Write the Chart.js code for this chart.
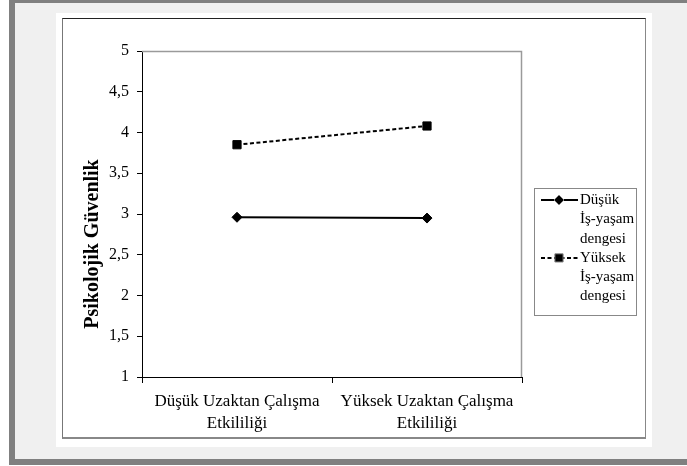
<!DOCTYPE html>
<html>
<head>
<meta charset="utf-8">
<script src="https://cdn.jsdelivr.net/npm/chart.js@4/dist/chart.umd.min.js"></script>
<style>
  html, body { margin: 0; padding: 0; width: 687px; height: 466px; overflow: hidden; background: #ffffff; }
  #frame { position: absolute; left: 9px; top: 0; width: 672px; height: 456px; background: #f0f0f0;
           border-top: 3px solid #808080; border-left: 6px solid #808080; border-bottom: 6px solid #808080; }
  #sheet { position: absolute; left: 56px; top: 13px; width: 596px; height: 434px; background: #ffffff; }
  #box { position: absolute; left: 62px; top: 18px; width: 582px; height: 418px;
         border-top: 1px solid #222; border-left: 1px solid #777; border-right: 1px solid #888; border-bottom: 2px solid #888; }
  #c { position: absolute; left: 0; top: 0; }
</style>
</head>
<body>
<div id="frame"></div>
<div id="sheet"></div>
<div id="box"></div>
<canvas id="c" width="687" height="466"></canvas>
<script>
// Categories on the x axis (two-line labels)
const categories = [
  ['Düşük Uzaktan Çalışma', 'Etkililiği'],
  ['Yüksek Uzaktan Çalışma', 'Etkililiği']
];
// Mean psychological safety per work-life balance group
const lowBalance = [2.96, 2.95];
const highBalance = [3.85, 4.08];
// Legend entries, one line per element
const seriesNames = [
  ['Düşük', 'İş-yaşam', 'dengesi'],
  ['Yüksek', 'İş-yaşam', 'dengesi']
];
const yAxisTitle = 'Psikolojik Güvenlik';
const yMin = 1, yMax = 5, yStep = 0.5;

const SERIF = '"Liberation Serif", "Times New Roman", serif';

// Grey frame on the top and right sides of the plot area
const plotFrame = {
  id: 'plotFrame',
  beforeDatasetsDraw(chart) {
    const { ctx, chartArea: a } = chart;
    ctx.save();
    ctx.strokeStyle = '#9a9a9a';
    ctx.lineWidth = 1.5;
    ctx.beginPath();
    ctx.moveTo(a.left, a.top + 0.5);
    ctx.lineTo(a.right - 0.5, a.top + 0.5);
    ctx.lineTo(a.right - 0.5, a.bottom);
    ctx.stroke();
    ctx.restore();
  }
};

// Rotated y-axis title
const yTitle = {
  id: 'yTitle',
  afterDraw(chart) {
    const { ctx } = chart;
    ctx.save();
    ctx.translate(93, 244);
    ctx.rotate(-Math.PI / 2);
    ctx.font = 'bold 20px ' + SERIF;
    ctx.fillStyle = '#000';
    ctx.textAlign = 'center';
    ctx.textBaseline = 'middle';
    ctx.fillText(yAxisTitle, 0, 0);
    ctx.restore();
  }
};

// Boxed legend with wrapped series names
const boxLegend = {
  id: 'boxLegend',
  afterDraw(chart) {
    const { ctx } = chart;
    const left = 534, top = 188, right = 636, bottom = 315;
    const lineH = 19.3;
    ctx.save();
    ctx.strokeStyle = '#888';
    ctx.lineWidth = 1;
    ctx.strokeRect(left + 0.5, top + 0.5, right - left, bottom - top);
    ctx.font = '15px ' + SERIF;
    ctx.textBaseline = 'middle';
    ctx.fillStyle = '#000';
    let y = top + 12;
    chart.data.datasets.forEach((ds, i) => {
      // sample line
      ctx.save();
      ctx.strokeStyle = ds.borderColor;
      ctx.lineWidth = ds.borderWidth;
      ctx.setLineDash(ds.borderDash || []);
      ctx.beginPath();
      ctx.moveTo(541, y);
      ctx.lineTo(578, y);
      ctx.stroke();
      ctx.restore();
      Chart.helpers.drawPoint(ctx, {
        pointStyle: ds.pointStyle, radius: ds.pointRadius, rotation: 0, borderWidth: 1
      }, 559, y);
      ctx.fillStyle = '#000';
      seriesNames[i].forEach((t, k) => {
        ctx.fillText(t, 580, y + k * lineH);
      });
      y += seriesNames[i].length * lineH;
    });
    ctx.restore();
  }
};

const yTickValues = [];
for (let v = yMin; v <= yMax + 1e-9; v += yStep) yTickValues.push(+v.toFixed(1));

new Chart(document.getElementById('c'), {
  type: 'line',
  data: {
    labels: categories,
    datasets: [
      {
        label: seriesNames[0].join(' '),
        data: lowBalance,
        borderColor: '#000',
        backgroundColor: '#000',
        borderWidth: 2,
        pointStyle: 'rectRot',
        pointRadius: 5,
        pointBorderWidth: 1,
        tension: 0,
        fill: false
      },
      {
        label: seriesNames[1].join(' '),
        data: highBalance,
        borderColor: '#000',
        backgroundColor: '#000',
        borderWidth: 2,
        borderDash: [4, 2.5],
        pointStyle: 'rect',
        pointRadius: 5.8,
        pointBorderWidth: 1,
        tension: 0,
        fill: false
      }
    ]
  },
  options: {
    responsive: false,
    animation: false,
    devicePixelRatio: 1,
    layout: { padding: { left: 0, top: 51, right: 165, bottom: 0 } },
    plugins: { legend: { display: false }, tooltip: { enabled: false } },
    scales: {
      x: {
        type: 'category',
        offset: true,
        grid: { offset: true, drawOnChartArea: false, drawTicks: true, tickLength: 6, color: '#000' },
        border: { display: true, color: '#000', width: 1 },
        ticks: {
          color: '#000', padding: 7, maxRotation: 0, autoSkip: false,
          font: { family: SERIF, size: 17, lineHeight: 1.3 }
        },
        afterFit(scale) { scale.height = 89; }
      },
      y: {
        min: yMin, max: yMax,
        afterBuildTicks(scale) { scale.ticks = yTickValues.map(v => ({ value: v })); },
        grid: { drawOnChartArea: false, drawTicks: true, tickLength: 5, color: '#000' },
        border: { display: true, color: '#000', width: 1 },
        ticks: {
          color: '#000', padding: 8,
          font: { family: SERIF, size: 16 },
          callback: v => String(v).replace('.', ',')
        },
        afterFit(scale) { scale.width = 142; }
      }
    }
  },
  plugins: [plotFrame, yTitle, boxLegend]
});
</script>
</body>
</html>
